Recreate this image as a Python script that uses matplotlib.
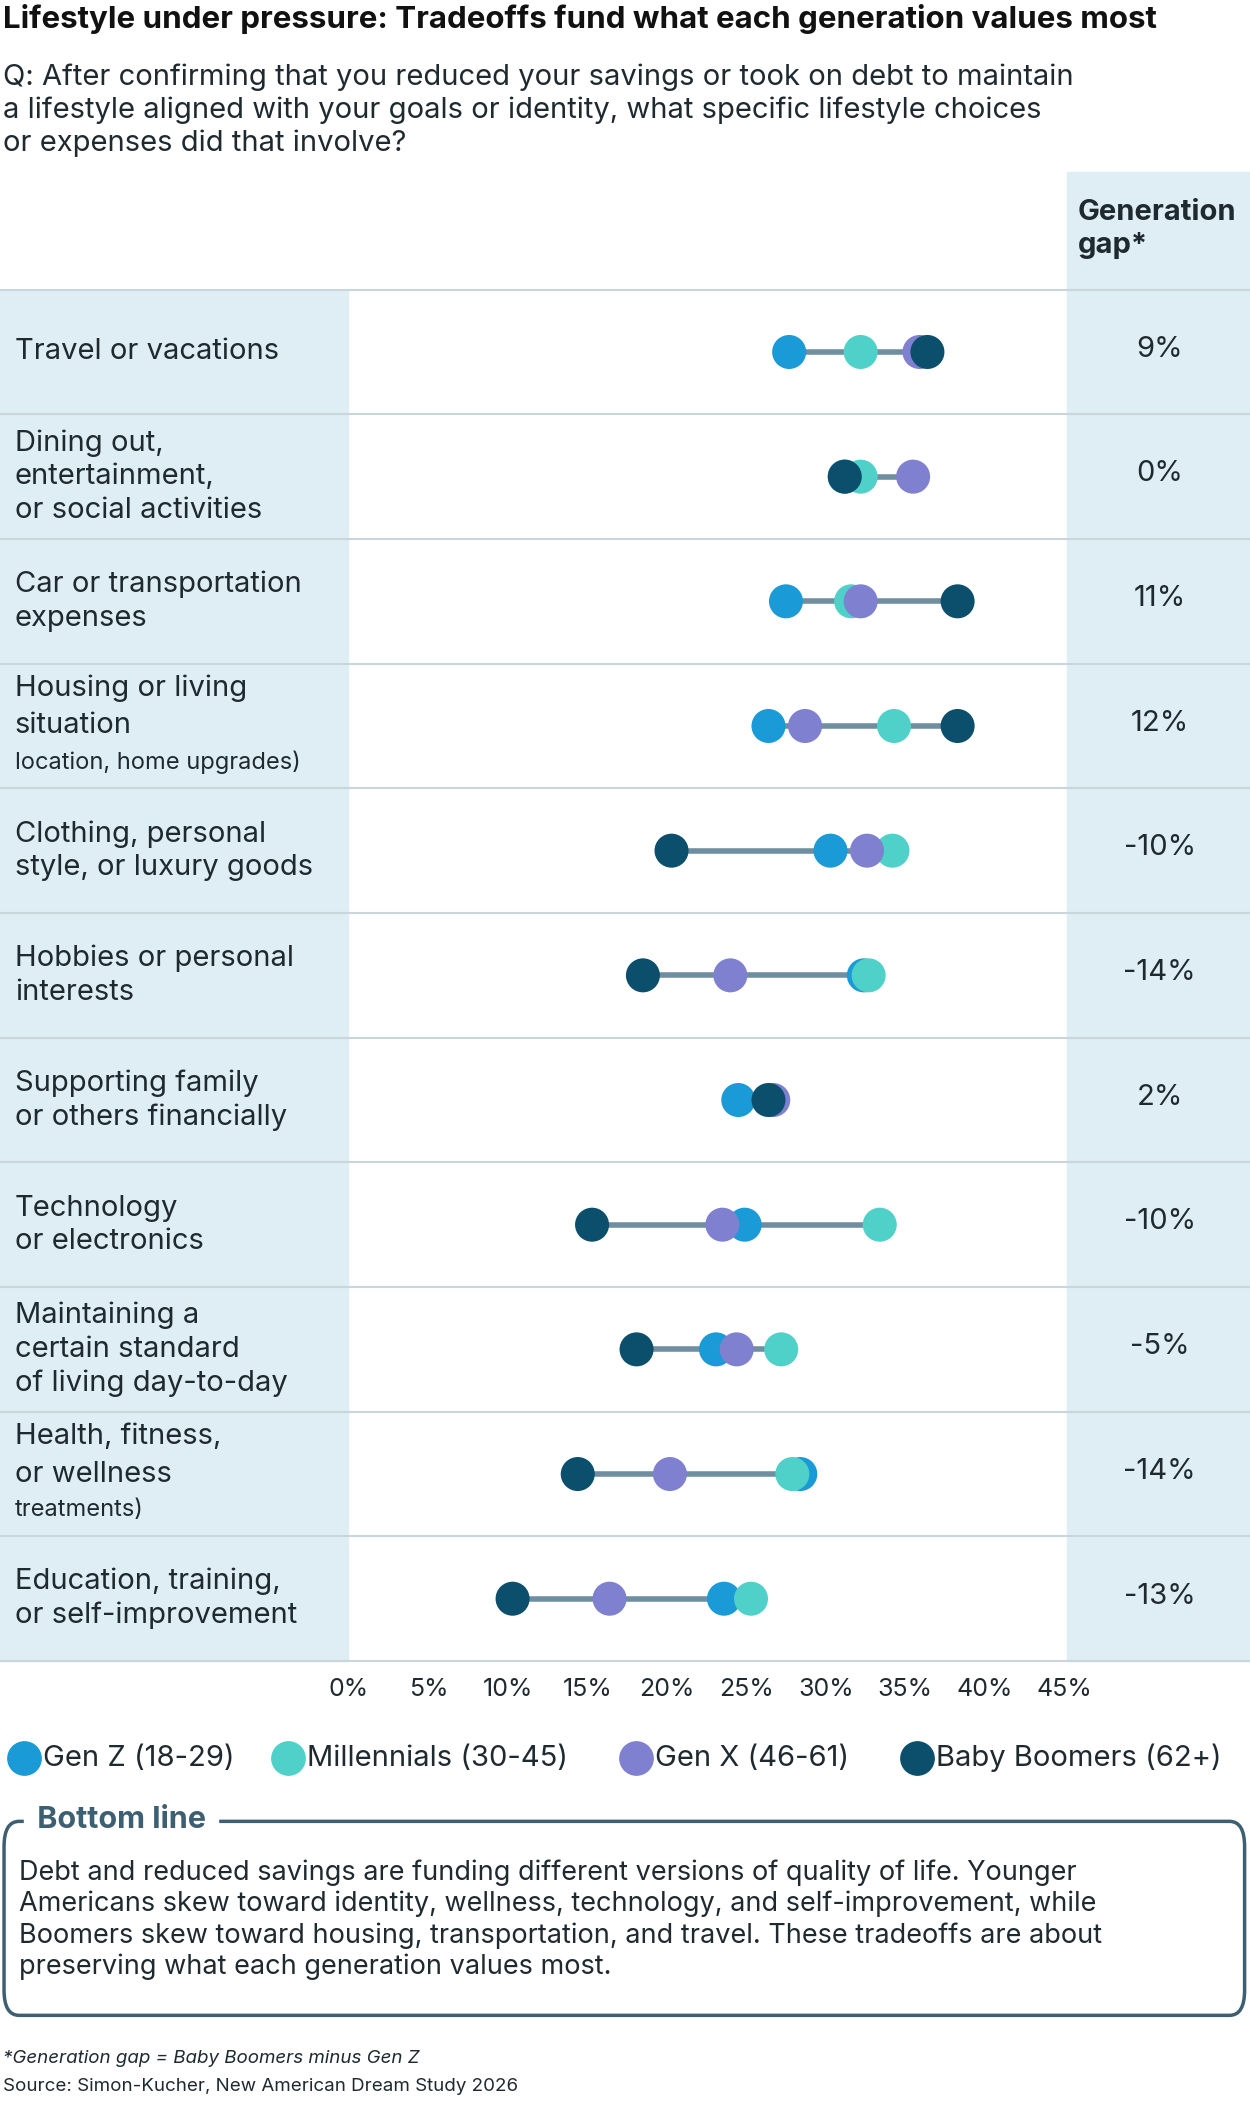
import matplotlib.pyplot as plt
from matplotlib.patches import Rectangle, FancyBboxPatch

plt.rcParams['font.family'] = ['Inter', 'DejaVu Sans']

categories = ["Travel or vacations",
              "Dining out,\nentertainment,\nor social activities",
              "Car or transportation\nexpenses",
              "Housing or living\nsituation",
              "Clothing, personal\nstyle, or luxury goods",
              "Hobbies or personal\ninterests",
              "Supporting family\nor others financially",
              "Technology\nor electronics",
              "Maintaining a\ncertain standard\nof living day-to-day",
              "Health, fitness,\nor wellness",
              "Education, training,\nor self-improvement"]
gen_z = [27.7, 31.2, 27.5, 26.4, 30.3, 32.4, 24.5, 24.9, 23.1, 28.4, 23.6]
millennials = [32.2, 32.2, 31.6, 34.3, 34.2, 32.7, 26.5, 33.4, 27.2, 27.9, 25.3]
gen_x = [35.9, 35.5, 32.2, 28.7, 32.6, 24.0, 26.7, 23.5, 24.4, 20.2, 16.4]
boomers = [36.4, 31.2, 38.3, 38.3, 20.3, 18.5, 26.4, 15.3, 18.1, 14.4, 10.3]
gaps = ["9%", "0%", "11%", "12%", "-10%", "-14%", "2%", "-10%", "-5%", "-14%", "-13%"]
series = [("Gen Z (18-29)", gen_z, "#1a9ad6"),
          ("Millennials (30-45)", millennials, "#4fd0c8"),
          ("Gen X (46-61)", gen_x, "#7f80d0"),
          ("Baby Boomers (62+)", boomers, "#0b4f6c")]

W, H = 928, 1567
fig = plt.figure(figsize=(12.5, 21.11), dpi=100)

def fx(x): return x / W
def fy(y): return 1 - y / H

bg = "#dfeef4"
dark = "#1f2a30"
top, bot = 215, 1233
n = len(categories)
rh = (bot - top) / n
FS = 21

# background columns
fig.patches.append(Rectangle((0, fy(bot)), fx(258), fy(top) - fy(bot), transform=fig.transFigure, color=bg, zorder=0))
fig.patches.append(Rectangle((fx(792), fy(bot)), fx(W - 792), fy(128) - fy(bot), transform=fig.transFigure, color=bg, zorder=0))

ax = fig.add_axes([fx(259), fy(bot), fx(790) - fx(259), fy(top) - fy(bot)])
ax.set_xlim(0, 45)
ax.set_ylim(n, 0)
for i in range(n):
    y = i + 0.5
    vals = [s[1][i] for s in series]
    ax.plot([min(vals), max(vals)], [y, y], color="#6f8fa0", lw=4, zorder=1, solid_capstyle='butt')
    for name, v, c in series:
        ax.scatter(v[i], y, s=600, color=c, zorder=3, edgecolors='none')
ax.set_xticks(range(0, 50, 5))
ax.set_xticklabels([f"{t}%" for t in range(0, 50, 5)], fontsize=18, color=dark)
ax.tick_params(length=0, pad=12)
ax.set_yticks([])
for s in ax.spines.values():
    s.set_visible(False)

# separators, labels, gap values
for i in range(n + 1):
    yy = top + i * rh
    fig.add_artist(plt.Line2D([0, 1], [fy(yy), fy(yy)], transform=fig.transFigure, color="#c9d6dc", lw=1.5, zorder=2))
for i, lab in enumerate(categories):
    yc = top + (i + 0.5) * rh
    if i in (3, 9):
        first, second = lab.split("\n")
        extra, last = ("(e.g., rent,", "location, home upgrades)") if i == 3 else ("(e.g., gym,", "treatments)")
        fig.text(fx(11), fy(yc - 28), first, fontsize=FS, color=dark, va='center')
        t = fig.text(fx(11), fy(yc), second, fontsize=FS, color=dark, va='center')
        ax.annotate(extra, xy=(1, 0.5), xycoords=t, xytext=(5, -1), textcoords='offset points',
                    fontsize=17, color=dark, va='center', annotation_clip=False)
        fig.text(fx(11), fy(yc + 27), last, fontsize=17, color=dark, va='center')
    else:
        fig.text(fx(11), fy(yc), lab, fontsize=FS, color=dark, va='center', linespacing=1.3)
    fig.text(fx(861), fy(yc - 2), gaps[i], fontsize=FS, color=dark, ha='center', va='center')

fig.text(fx(800), fy(170), "Generation\ngap*", fontsize=FS, fontweight='bold', color=dark, va='center', linespacing=1.3)

# title and question
fig.text(fx(2), fy(14), "Lifestyle under pressure: Tradeoffs fund what each generation values most",
         fontsize=22.5, fontweight='bold', color="#111111", va='center')
fig.text(fx(2), fy(82), "Q: After confirming that you reduced your savings or took on debt to maintain\n"
         "a lifestyle aligned with your goals or identity, what specific lifestyle choices\n"
         "or expenses did that involve?", fontsize=FS, color=dark, va='center', linespacing=1.25)

# legend
lx = [18, 214, 472, 681]
for (name, v, c), x in zip(series, lx):
    fig.add_artist(plt.Line2D([fx(x)], [fy(1305)], marker='o', markersize=24, color=c, transform=fig.transFigure))
    fig.text(fx(x + 14), fy(1305), name, fontsize=FS, color=dark, va='center')

# bottom line box
fig.patches.append(FancyBboxPatch((fx(3), fy(1496)), fx(921), fy(1352) - fy(1496),
                                  boxstyle="round,pad=0,rounding_size=0.012", transform=fig.transFigure,
                                  fill=False, edgecolor="#3d5f72", lw=2.5))
fig.text(fx(22), fy(1351), " Bottom line ", fontsize=22, fontweight='bold', color="#3d5f72", va='center',
         backgroundcolor='white')
fig.text(fx(14), fy(1425), "Debt and reduced savings are funding different versions of quality of life. Younger\n"
         "Americans skew toward identity, wellness, technology, and self-improvement, while\n"
         "Boomers skew toward housing, transportation, and travel. These tradeoffs are about\n"
         "preserving what each generation values most.", fontsize=19.5, color=dark, va='center', linespacing=1.25)

fig.text(fx(2), fy(1528), "*Generation gap = Baby Boomers minus Gen Z", fontsize=13.5, style='italic', color=dark, va='center')
fig.text(fx(2), fy(1549), "Source: Simon-Kucher, New American Dream Study 2026", fontsize=13.5, color=dark, va='center')

fig.savefig("out.png", dpi=100)
